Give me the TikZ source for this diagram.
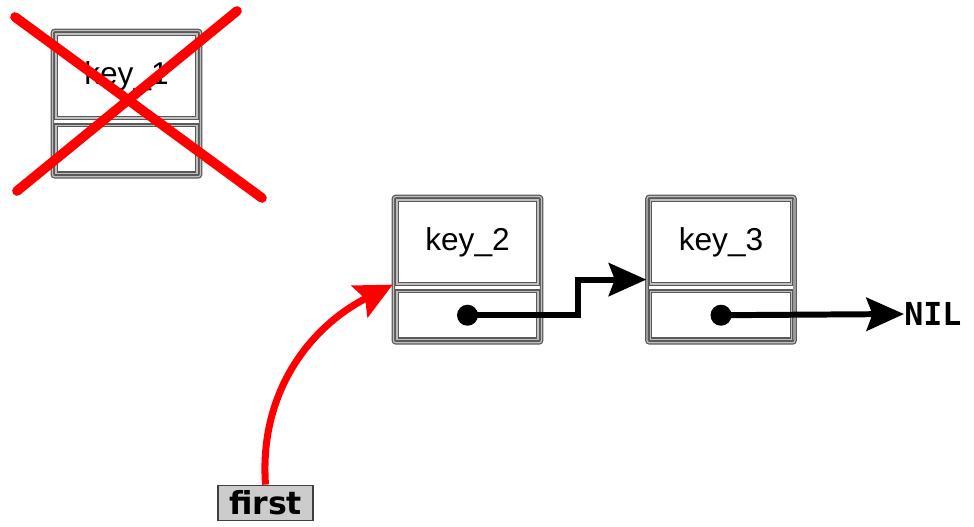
\documentclass[tikz,border=0pt]{standalone}
\usepackage{fontspec}
\setmainfont{Liberation Sans}
\newfontfamily\nilfont{DejaVu Sans Mono}
\newfontfamily\headfont{DejaVu Sans}
\usetikzlibrary{positioning,fit,arrows.meta}
\tikzset{keyfield/.style={draw=black!65,double=black!25,double distance=0.7pt,line width=0.7pt,minimum width=2.82cm,minimum height=1.68cm,inner sep=0pt,font=\fontsize{18}{20}\selectfont},
  nextfield/.style={keyfield,minimum height=0.96cm},
  record/.style={draw=black!65,double=black!25,double distance=0.7pt,line width=0.7pt,rounded corners=1.5pt,inner sep=0.06cm},
  pointer/.style={circle,fill=black,inner sep=0pt,minimum size=0.42cm},
  link/.style={line width=3.4pt,-{Stealth[length=0.75cm,width=0.66cm,inset=0.12cm]}},
  headlink/.style={red,line width=4pt,-{Stealth[length=0.74cm,width=0.7cm,inset=0.12cm]}},
  cross/.style={red,line width=5.5pt,line cap=round}}

\begin{document}
\begin{tikzpicture}[x=0.02cm,y=-0.02cm]
\useasboundingbox (0,0) rectangle (974,527);

\node[keyfield] (key1) at (126.5,76) {key\_1};
\node[nextfield,below=0.12cm of key1] (nxt1) {};
\node[record,fit=(key1) (nxt1)] (rec1) {};

\node[keyfield] (key2) at (467.5,242) {key\_2};
\node[nextfield,below=0.12cm of key2] (nxt2) {};
\node[record,fit=(key2) (nxt2)] (rec2) {};

\node[keyfield] (key3) at (721,242) {key\_3};
\node[nextfield,below=0.12cm of key3] (nxt3) {};
\node[record,fit=(key3) (nxt3)] (rec3) {};

\node[font=\nilfont\bfseries\fontsize{18}{20}\selectfont,inner sep=0pt,anchor=west] (nil) at (904,314) {NIL};
\node[draw=black!75,line width=1pt,fill=black!20,minimum width=1.9cm,minimum height=0.7cm,inner sep=0pt,font=\headfont\bfseries\fontsize{18}{20}\selectfont] (first) at (265.5,503) {first};

\node[pointer] (dot2) at (nxt2.center) {};
\node[pointer] (dot3) at (nxt3.center) {};
\coordinate (in3) at ([yshift=-0.2cm]rec3.west);
\draw[link] (dot2.center) -| ([xshift=-1.36cm]in3) -- (in3);
\draw[link] (dot3.center) -- (nil.west);
\draw[headlink] (first.north) to[out=94,in=207] ([yshift=-0.3cm]rec2.west);

\draw[cross] (15,17) -- (262,198);
\draw[cross] (237,11) -- (17,191);

\end{tikzpicture}
\end{document}
